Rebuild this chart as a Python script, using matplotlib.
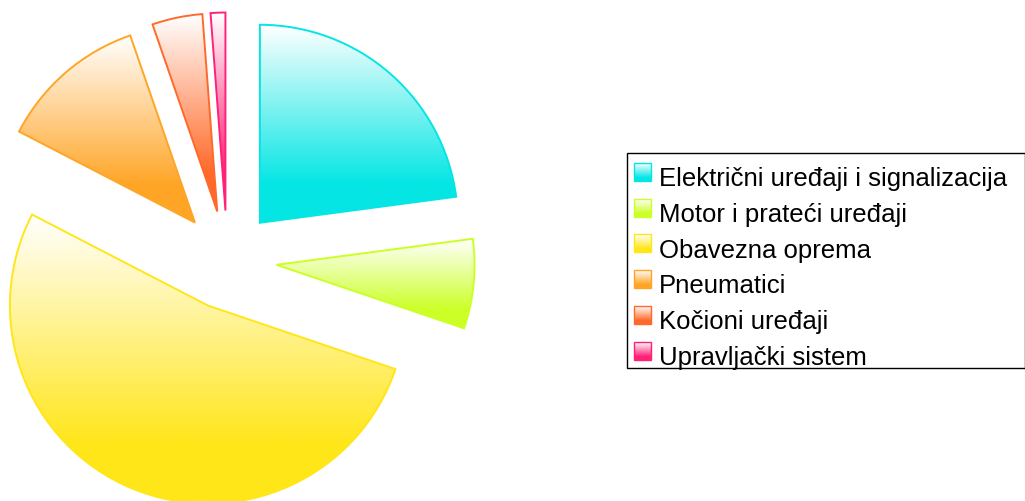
import numpy as np
import matplotlib
matplotlib.use("Agg")
import matplotlib.pyplot as plt
from matplotlib.patches import Rectangle
from matplotlib.legend_handler import HandlerBase
from matplotlib.colors import to_rgb

categories = ["Električni uređaji i signalizacija", "Motor i prateći uređaji",
              "Obavezna oprema", "Pneumatici", "Kočioni uređaji", "Upravljački sistem"]
values = [22.9, 7.3, 52.4, 12.1, 4.1, 1.2]
colors = ["#05E6E4", "#CCFF26", "#FFE619", "#FFA526", "#FF6A2A", "#FF2277"]

plt.rcParams['font.family'] = ['Liberation Sans', 'DejaVu Sans']

W, H = 1025, 501
fig = plt.figure(figsize=(W / 100, H / 100), dpi=100)
ax = fig.add_axes([0, 0, 1, 1])

wedges, _ = ax.pie(values, explode=[0.25] * len(values), startangle=90,
                   counterclock=False, radius=1.0,
                   wedgeprops=dict(linewidth=1.4))

FULL_AT = 0.8


def gradient(color, n=256):
    c = np.array(to_rgb(color))
    t = np.clip(np.linspace(0, 1, n) / FULL_AT, 0, 1)[:, None]
    g = (1 - t) * np.ones(3) + t * c
    return g[:, None, :]


for w, col in zip(wedges, colors):
    w.set_facecolor("none")
    w.set_edgecolor(col)
    w.set_zorder(3)
    bb = w.get_path().get_extents()
    im = ax.imshow(gradient(col), extent=[bb.x0, bb.x1, bb.y0, bb.y1],
                   origin="upper", aspect="auto", interpolation="bilinear",
                   zorder=2)
    im.set_clip_path(w)

cx, cy, R = 227.3, 260.0, 198.0
ax.set_xlim(-cx / R, (W - cx) / R)
ax.set_ylim(-(H - cy) / R, cy / R)
ax.set_aspect("auto")
ax.axis("off")

FS = 18.5


class GradientHandler(HandlerBase):
    def create_artists(self, legend, orig_handle, xdescent, ydescent,
                       width, height, fontsize, trans):
        col = orig_handle.get_edgecolor()
        c = np.array(to_rgb(col))
        n = 18
        arts = []
        x0, y0 = -xdescent, -ydescent + 0.28 * height
        for i in range(n):
            t = min(1.0, (i + 0.5) / n / FULL_AT)
            rgb = (1 - t) * np.ones(3) + t * c
            r = Rectangle((x0, y0 + height - (i + 1) * height / n), width,
                          height / n + 0.05, facecolor=rgb, edgecolor="none",
                          transform=trans)
            arts.append(r)
        border = Rectangle((x0, y0), width, height, facecolor="none",
                           edgecolor=c, linewidth=1.0, transform=trans)
        arts.append(border)
        return arts


# legend frame (drawn separately so the text can sit low in the box)
fx0, fx1, fy0, fy1 = 626.5, 1024.5, 152.5, 367.5
frame = Rectangle((fx0 / W, 1 - fy1 / H), (fx1 - fx0) / W, (fy1 - fy0) / H,
                  transform=fig.transFigure, facecolor="white",
                  edgecolor="#000000", linewidth=1.0, zorder=4)
fig.add_artist(frame)

handles = [Rectangle((0, 0), 1, 1, edgecolor=c, facecolor=c) for c in colors]
leg = fig.legend(handles, categories, loc="upper left",
                 bbox_to_anchor=(626 / W, 1 - 159 / H),
                 bbox_transform=fig.transFigure, borderaxespad=0,
                 fontsize=FS, frameon=False,
                 handler_map={Rectangle: GradientHandler()},
                 handlelength=0.68, handleheight=0.70, handletextpad=0.29,
                 borderpad=0.31, labelspacing=0.458)
leg.set_zorder(5)

fig.savefig("out.png", dpi=100)
